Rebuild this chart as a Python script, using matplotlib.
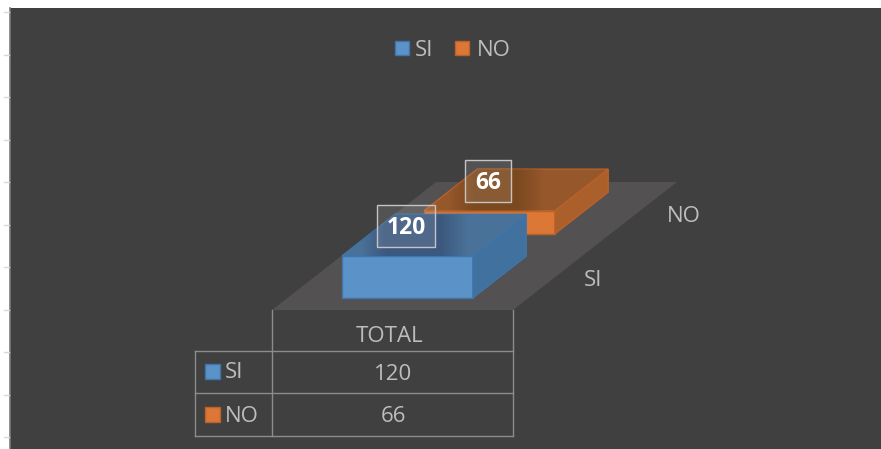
import matplotlib
matplotlib.use('Agg')
import matplotlib.pyplot as plt
from matplotlib.patches import Polygon, Rectangle

categories = ['SI', 'NO']
values = [120, 66]
column_label = 'TOTAL'
tick_rows = [12, 54.5, 97, 140, 182, 225, 267, 310, 352, 395, 437]

BG = '#404040'
FLOOR = '#535151'
TEXT = '#bdbdbd'
LINE = '#8c8c8c'
FRONT = ['#5b93c9', '#dc7735']
TOP = ['#4a7298', '#96572b']
SIDE = ['#41729f', '#ab5f2a']
EDGE = ['#3f75aa', '#b9622a']
FONT_SIZE = 16

plt.rcParams['font.family'] = ['Open Sans', 'DejaVu Sans']


def project(x, depth, z=0):
    # oblique view of the floor, x 0-1 across, depth 0-2 back, z is the value
    return (272 + 241 * x + 82 * depth, 310 - 64 * depth - z * 0.35)


def draw_box(ax, slot, value, i):
    x0, x1 = 0.226, 0.769
    d0, d1 = slot + 0.19, slot + 0.84
    front = [project(x0, d0), project(x1, d0), project(x1, d0, value), project(x0, d0, value)]
    side = [project(x1, d0), project(x1, d1), project(x1, d1, value), project(x1, d0, value)]
    top = [project(x0, d0, value), project(x1, d0, value), project(x1, d1, value), project(x0, d1, value)]
    ax.add_patch(Polygon(front, fc=FRONT[i], ec=EDGE[i], lw=1, zorder=3 - slot))
    ax.add_patch(Polygon(side, fc=SIDE[i], ec=EDGE[i], lw=1, zorder=3 - slot))
    top_face = Polygon(top, fc=TOP[i], ec=EDGE[i], lw=1, zorder=3 - slot)
    ax.add_patch(top_face)
    # data label sits up and left of the middle of the top face
    cx, cy = project((x0 + x1) / 2, (d0 + d1) / 2, value)
    lx, ly = cx - 28, cy - 9
    w = 29 if value >= 100 else 23
    # soft shadow of the label on the face
    for k in range(0, 26, 2):
        shade = Rectangle((lx - w - k + 8, ly - 21 - k + 8), 2 * w + 2 * k, 42 + 2 * k,
                          fc=(0, 0, 0, 0.012), ec='none', zorder=3 - slot)
        ax.add_patch(shade)
        shade.set_clip_path(top_face)
    ax.add_patch(Rectangle((lx - w, ly - 21), 2 * w, 42, fc=(1, 1, 1, 0.1), ec='#c4c4c4', lw=1, zorder=5))
    ax.text(lx, ly + 2, str(value), color='white', fontsize=16.5, fontweight='bold',
            ha='center', va='center', zorder=6)


def main():
    fig = plt.figure(figsize=(8.81, 4.49), dpi=100, facecolor='white')
    ax = fig.add_axes([0, 0, 1, 1])
    ax.set_xlim(0, 881)
    ax.set_ylim(449, 0)
    ax.axis('off')

    ax.add_patch(Rectangle((10, 8), 871, 441, fc=BG, ec='none', zorder=0))
    ax.plot([10, 10], [8, 449], color='#7a7a7a', lw=1.2, zorder=1)
    for y in tick_rows:
        ax.plot([4, 9], [y, y], color='#d9d9d9', lw=1, zorder=1)

    floor = [project(0, 0), project(1, 0), project(1, 2), project(0, 2)]
    ax.add_patch(Polygon(floor, fc=FLOOR, ec='none', zorder=1))

    for slot in [1, 0]:
        draw_box(ax, slot, values[slot], slot)

    # depth axis labels
    ax.text(593, 281, categories[0], color=TEXT, fontsize=FONT_SIZE, ha='center', va='center')
    ax.text(684, 217, categories[1], color=TEXT, fontsize=FONT_SIZE, ha='center', va='center')

    # legend
    for swatch_x, text_x, i in [(395, 415, 0), (455, 477, 1)]:
        ax.add_patch(Rectangle((swatch_x, 41), 14, 14, fc=FRONT[i], ec=EDGE[i], lw=1, zorder=3))
        ax.text(text_x, 50.5, categories[i], color=TEXT, fontsize=FONT_SIZE, ha='left', va='center')

    # data table
    for x0, x1, y0, y1 in [(272, 272, 310, 436), (513, 513, 310, 436), (195, 195, 351, 436),
                           (195, 513, 351, 351), (195, 513, 393, 393), (195, 513, 436, 436)]:
        ax.plot([x0, x1], [y0, y1], color=LINE, lw=1, zorder=2)
    ax.text(390, 337, column_label, color=TEXT, fontsize=FONT_SIZE, ha='center', va='center')
    for i, y in enumerate([372, 415]):
        ax.add_patch(Rectangle((205, y - 8), 15, 15, fc=FRONT[i], ec=EDGE[i], lw=1, zorder=3))
        ax.text(225, y + 1, categories[i], color=TEXT, fontsize=FONT_SIZE, ha='left', va='center')
        ax.text(393, y + 2, str(values[i]), color=TEXT, fontsize=FONT_SIZE, ha='center', va='center')

    fig.savefig('out.png', dpi=100, facecolor='white')


if __name__ == "__main__":
    main()
